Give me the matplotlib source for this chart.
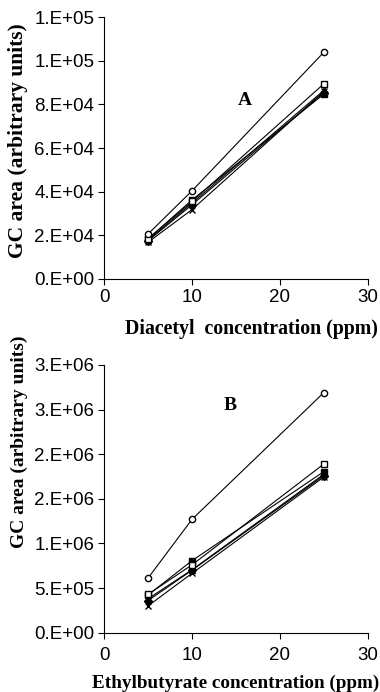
import numpy as np
import matplotlib.pyplot as plt

# concentrations (ppm)
conc = [5, 10, 25]

# panel A : diacetyl
diac_circle = [20600, 40400, 104000]
diac_osq = [18500, 35500, 89500]
diac_fsq = [18300, 36200, 84800]
diac_tri = [17800, 34800, 86500]
diac_dia = [17500, 34000, 85500]
diac_x = [16800, 31800, 86000]

# panel B : ethylbutyrate
ethy_circle = [612000, 1270000, 2690000]
ethy_osq = [430000, 760000, 1890000]
ethy_fsq = [422000, 807000, 1805000]
ethy_tri = [380000, 705000, 1775000]
ethy_dia = [360000, 700000, 1760000]
ethy_x = [300000, 665000, 1745000]

yticksA = [0, 2e4, 4e4, 6e4, 8e4, 1e5, 1.2e5]
ylabA = ['0.E+00', '2.E+04', '4.E+04', '6.E+04', '8.E+04', '1.E+05', '1.E+05']
yticksB = [0, 5e5, 1e6, 1.5e6, 2e6, 2.5e6, 3e6]
ylabB = ['0.E+00', '5.E+05', '1.E+06', '2.E+06', '2.E+06', '3.E+06', '3.E+06']

serif = {'family': 'Liberation Serif', 'weight': 'bold'}
plt.rcParams['font.family'] = 'Liberation Sans'

fig = plt.figure(figsize=(3.8, 6.92), dpi=100)
axA = fig.add_axes([0.274, 0.597, 0.694, 0.378])
axB = fig.add_axes([0.274, 0.0857, 0.694, 0.387])


def draw(ax, series, yt, yl, letter, lx, ly):
    circ, osq, fsq, tri, dia, xs = series
    kw = dict(color='k', lw=0.8)
    ax.plot(conc, tri, marker='^', ms=4.5, mfc='k', **kw)
    ax.plot(conc, dia, marker='D', ms=4, mfc='k', **kw)
    ax.plot(conc, xs, marker='x', ms=5, **kw)
    ax.plot(conc, fsq, marker='s', ms=5, mfc='k', **kw)
    ax.plot(conc, osq, marker='s', ms=4.5, mfc='white', **kw)
    ax.plot(conc, circ, marker='o', ms=4.5, mfc='white', **kw)
    ax.set_xlim(0, 30)
    ax.set_ylim(yt[0], yt[-1])
    ax.set_xticks([0, 10, 20, 30])
    ax.set_yticks(yt)
    ax.set_yticklabels(yl)
    ax.tick_params(labelsize=13.5, direction='out', length=4, width=0.8, pad=3)
    for s in ['top', 'right']:
        ax.spines[s].set_visible(False)
    for s in ['left', 'bottom']:
        ax.spines[s].set_linewidth(0.8)
    ax.text(lx, ly, letter, fontdict=serif, fontsize=14, ha='center', va='center')


draw(axA, [diac_circle, diac_osq, diac_fsq, diac_tri, diac_dia, diac_x],
     yticksA, ylabA, 'A', 16, 82000)
draw(axB, [ethy_circle, ethy_osq, ethy_fsq, ethy_tri, ethy_dia, ethy_x],
     yticksB, ylabB, 'B', 14.3, 2.54e6)

axA.set_xlabel('Diacetyl  concentration (ppm)', fontdict=serif, fontsize=14.3)
axA.xaxis.set_label_coords(0.557, -0.155)
axA.set_ylabel('GC area (arbitrary units)', fontdict=serif, fontsize=15.5)
axA.yaxis.set_label_coords(-0.29, 0.527)

axB.tick_params(axis='x', pad=6)
axB.set_xlabel('Ethylbutyrate concentration (ppm)', fontdict=serif, fontsize=13.8)
axB.xaxis.set_label_coords(0.5, -0.155)
axB.set_ylabel('GC area (arbitrary units)', fontdict=serif, fontsize=14)
axB.yaxis.set_label_coords(-0.29, 0.713)

fig.savefig('out.png', dpi=100)
